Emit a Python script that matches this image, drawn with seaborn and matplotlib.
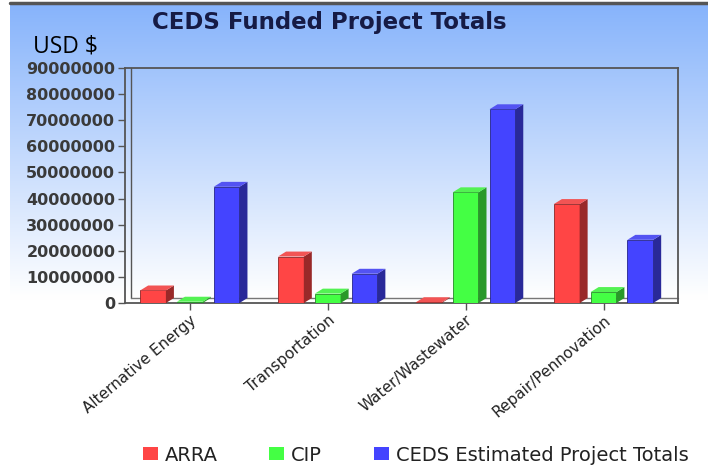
import numpy as np
import pandas as pd
import seaborn as sns
import matplotlib.pyplot as plt
from matplotlib.patches import Polygon, Patch
from matplotlib.colors import LinearSegmentedColormap, to_rgb

# chart data
categories = ["Alternative Energy", "Transportation", "Water/Wastewater", "Repair/Pennovation"]
series = ["ARRA", "CIP", "CEDS Estimated Project Totals"]
arra = [4800000, 17800000, 300000, 37900000]
cip = [500000, 3600000, 42400000, 4200000]
ceds = [44500000, 11200000, 74200000, 24200000]
colors = ["#ff4545", "#44ff44", "#4444ff"]
yticks = list(range(0, 90000001, 10000000))

df = pd.DataFrame({
    "category": categories * 3,
    "series": [series[0]] * 4 + [series[1]] * 4 + [series[2]] * 4,
    "value": arra + cip + ceds,
})

sns.set_style("white")
plt.rcParams['font.family'] = ['DejaVu Sans']

fig = plt.figure(figsize=(7.08, 4.65), dpi=100)
fig.patch.set_facecolor("white")

# gradient background (blue at top, fading to white)
bg = fig.add_axes([10 / 708, 0, 698 / 708, 1 - 3 / 465], zorder=-5)
cmap = LinearSegmentedColormap.from_list("bg", [(0, "#86b3fb"), (0.64, "#ffffff"), (1, "#ffffff")])
grad = np.linspace(0, 1, 256).reshape(-1, 1)
bg.imshow(grad, aspect="auto", cmap=cmap, extent=[0, 1, 0, 1], origin="upper")
bg.plot([0, 1], [1, 1], color="#555555", lw=2.5, transform=bg.transAxes, clip_on=False)
bg.set_axis_off()

ax = fig.add_axes([125 / 708, 1 - 303 / 465, 553 / 708, 235 / 465])
ax.set_facecolor("none")

sns.barplot(data=df, x="category", y="value", hue="series", palette=colors,
            width=0.8, gap=0.3, ax=ax, legend=False, saturation=1, zorder=3)

# fake 3D faces from the drawn bars
dx, dy = 0.058, 1900000
for bar in list(ax.patches):
    c = np.array(to_rgb(bar.get_facecolor()))
    x0, w, h = bar.get_x(), bar.get_width(), bar.get_height()
    side = Polygon([(x0 + w, 0), (x0 + w + dx, dy), (x0 + w + dx, h + dy), (x0 + w, h)],
                   closed=True, facecolor=c * 0.6, edgecolor="none", zorder=3)
    top = Polygon([(x0, h), (x0 + dx, h + dy), (x0 + w + dx, h + dy), (x0 + w, h)],
                  closed=True, facecolor=np.clip(c * 0.85 + 0.1, 0, 1), edgecolor="none", zorder=3)
    ax.add_patch(side)
    ax.add_patch(top)
    bar.set_edgecolor(c * 0.55)
    bar.set_linewidth(0.6)

ax.set_xlim(-0.47, 3.54)
ax.set_ylim(0, 90000000)
ax.set_yticks(yticks)
ax.set_yticklabels([str(v) for v in yticks], fontsize=11.5, fontweight="bold", color="#3a3a3a")
ax.set_xticks(range(len(categories)))
ax.set_xticklabels(categories, rotation=40, ha="right", rotation_mode="anchor",
                   fontsize=11, color="#222222")
ax.tick_params(axis="both", direction="out", length=5, width=1, color="#555555", pad=2, left=True, bottom=True)
ax.set_xlabel("")
ax.set_ylabel("")
for s in ax.spines.values():
    s.set_visible(True)
    s.set_color("#555555")
    s.set_linewidth(1.3)

# box depth: inner wall line and floor edge
ax.plot([0.011, 0.011], [0.022, 1], transform=ax.transAxes, color="#555555", lw=1, clip_on=False)
ax.plot([0.011, 1], [0.022, 0.022], transform=ax.transAxes, color="#777777", lw=1, clip_on=False)

# title, unit label, legend
fig.text(0.465, 0.951, "CEDS Funded Project Totals", ha="center", va="center",
         fontsize=16.5, fontweight="bold", color="#161b45")
fig.text(0.046, 0.901, "USD $", ha="left", va="center", fontsize=16.5,
         family="Open Sans", color="black")

handles = [Patch(facecolor=c, edgecolor="none") for c in colors]
fig.legend(handles, series, loc="center", bbox_to_anchor=(0.587, 0.021), ncol=3,
           frameon=False, fontsize=14, handlelength=0.78, handleheight=0.65,
           handletextpad=0.36, columnspacing=2.65, labelcolor="#222222")

fig.savefig("out.png", dpi=100)
